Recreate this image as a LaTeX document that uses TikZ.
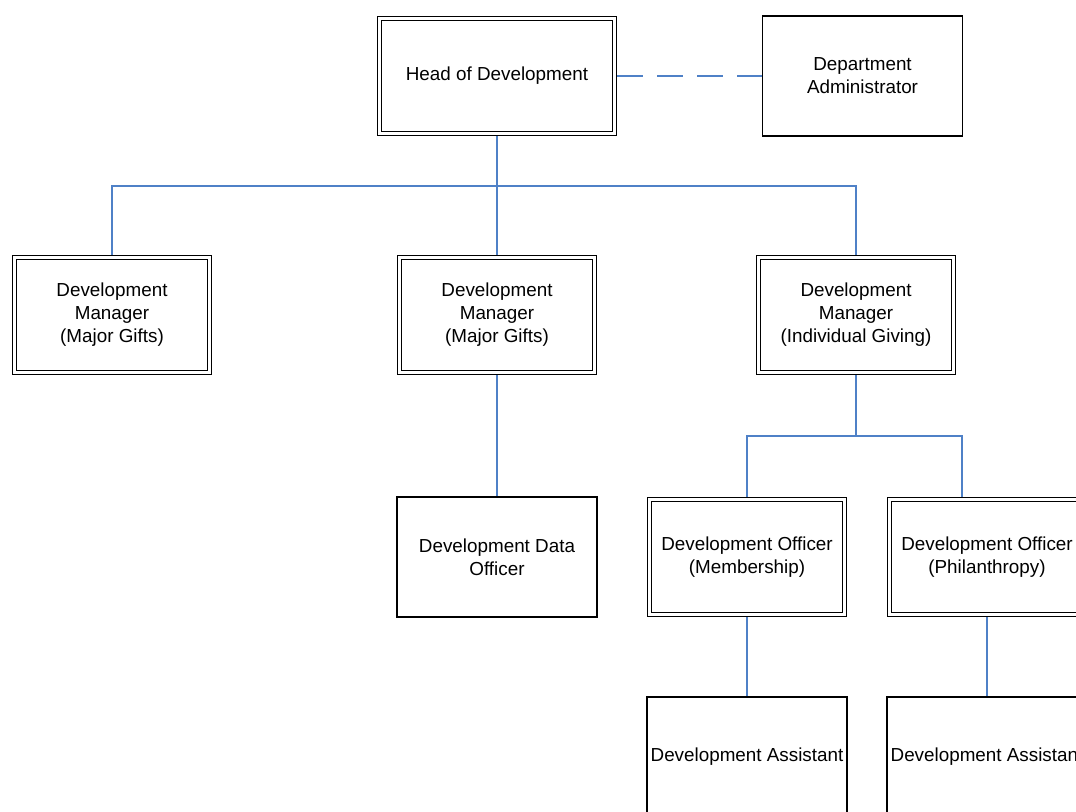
\documentclass[tikz,border=0pt]{standalone}
\usepackage{fontspec}
\setmainfont{Liberation Sans}
\definecolor{linkblue}{RGB}{79,129,199}
\begin{document}
\begin{tikzpicture}[x=0.025cm, y=-0.025cm,
		post/.style={draw=black, fill=white, line width=0.9pt, inner sep=1pt, align=center,
			font=\fontsize{13.4}{16.4}\selectfont, minimum width=5cm, minimum height=3cm},
		lead/.style={post, double, double distance=2pt, outer sep=1.9pt,
			minimum width=4.875cm, minimum height=2.875cm},
		link/.style={draw=linkblue, line width=0.75pt}]
		\useasboundingbox (0,0) rectangle (1076,811);
		\node[lead, minimum width=5.875cm] (head) at (497,76) {Head of Development};
		\node[post] (admin) at (862.5,76) {Department\\Administrator};
		\node[lead] (dmA) at (112,315) {Development\\Manager\\(Major Gifts)};
		\node[lead] (dmB) at (497,315) {Development\\Manager\\(Major Gifts)};
		\node[lead] (dmC) at (856,315) {Development\\Manager\\(Individual Giving)};
		\node[post] (data) at (497,557) {Development Data\\Officer};
		\node[lead] (doM) at (747,557) {Development Officer\\(Membership)};
		\node[lead] (doP) at (987,557) {Development Officer\\(Philanthropy)};
		\node[post] (daM) at (747,757) {Development Assistant};
		\node[post] (daP) at (987,757) {Development Assistant};
		\coordinate (hubA) at (497,186);
		\coordinate (hubB) at (856,436);
		\draw[link, dash pattern=on 6.5mm off 3.5mm] (head) -- (admin);
		\draw[link] (head.south) -- (hubA);
		\draw[link] (hubA) -| (dmA.north);
		\draw[link] (hubA) -- (dmB.north);
		\draw[link] (hubA) -| (dmC.north);
		\draw[link] (dmB.south) -- (data.north);
		\draw[link] (dmC.south) -- (hubB);
		\draw[link] (hubB) -| (doM.north);
		\draw[link] (hubB) -| ([xshift=-0.625cm]doP.north);
		\draw[link] (doM.south) -- (daM.north);
		\draw[link] (doP.south) -- (daP.north);
	\end{tikzpicture}
\end{document}
